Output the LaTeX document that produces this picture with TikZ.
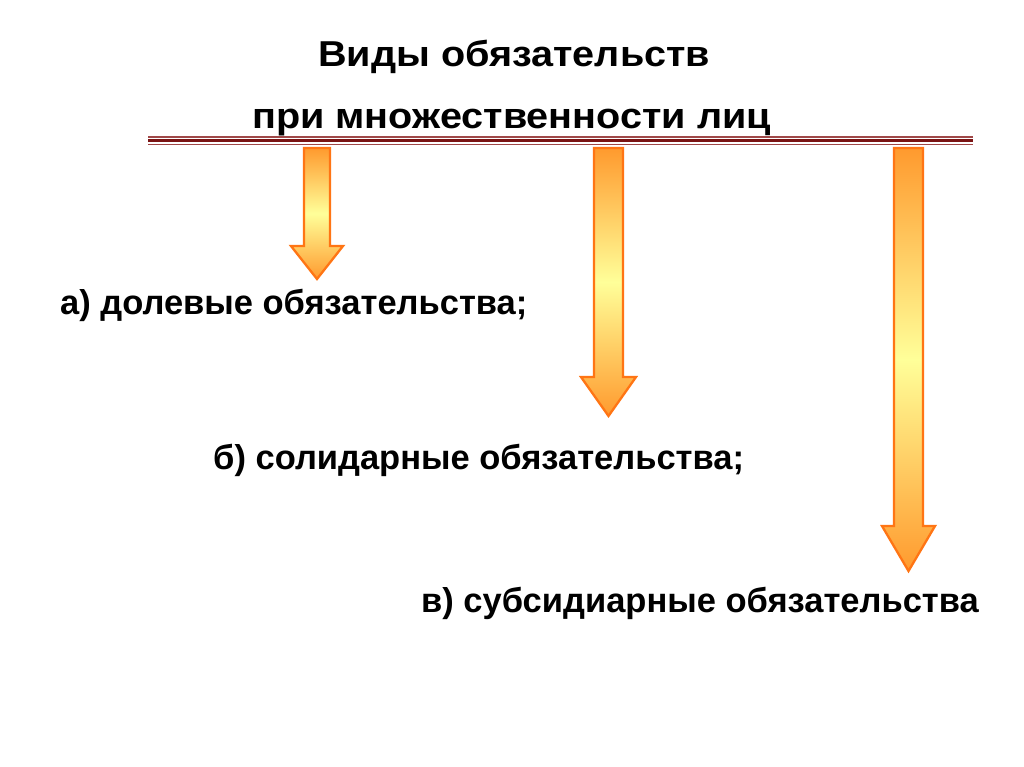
\documentclass[tikz,border=0pt]{standalone}
\usepackage{fontspec}
\setmainfont{Liberation Sans}
\definecolor{arrowline}{HTML}{FF7514}
\definecolor{arrowor}{HTML}{FF9A2E}
\definecolor{arrowyel}{HTML}{FFFF99}
\definecolor{rulethin}{HTML}{A04848}
\definecolor{rulethick}{HTML}{7A1414}
\newcommand{\widetitle}[1]{\scalebox{1.1}[1]{#1}}
\tikzset{
  arr/.style={draw=arrowline, line width=2.3pt, line join=miter,
    top color=arrowor, bottom color=arrowor, middle color=arrowyel},
  lbl/.style={font=\fontsize{34.5}{40}\selectfont\bfseries, anchor=base west, inner sep=0pt, text=black},
  ttl/.style={font=\fontsize{36}{42}\selectfont\bfseries, anchor=base west, inner sep=0pt, text=black},
}
\begin{document}
\begin{tikzpicture}[x=1pt,y=-1pt]
\useasboundingbox[fill=white] (0,0) rectangle (1024,767);
% title
\node[ttl] (t1) at (318,67) {\widetitle{Виды обязательств}};
\node[ttl] (t2) at (252,129) {\widetitle{при множественности лиц}};
% rule
\coordinate (rl) at (148,140.5);
\coordinate (rr) at (973,140.5);
\draw[rulethin, line width=1.4pt] ([yshift=-4pt]rl) -- ([yshift=-4pt]rr);
\draw[rulethick, line width=2.6pt] (rl) -- (rr);
\draw[rulethin, line width=1.4pt] ([yshift=3.6pt]rl) -- ([yshift=3.6pt]rr);
% arrows
\draw[arr] (304,148) -- (330,148) -- (330,246) -- (343,246) -- (317,279) -- (291,246) -- (304,246) -- cycle;
\draw[arr] (594,148) -- (623,148) -- (623,377) -- (636,377) -- (608.5,416) -- (581,377) -- (594,377) -- cycle;
\draw[arr] (894,148) -- (923,148) -- (923,526) -- (935,526) -- (908.5,571) -- (882,526) -- (894,526) -- cycle;
% items
\node[lbl] (a) at (60,314) {а) долевые обязательства;};
\node[lbl] (b) at (213,469) {б) солидарные обязательства;};
\node[lbl] (c) at (421,612) {в) субсидиарные обязательства};
\end{tikzpicture}
\end{document}
